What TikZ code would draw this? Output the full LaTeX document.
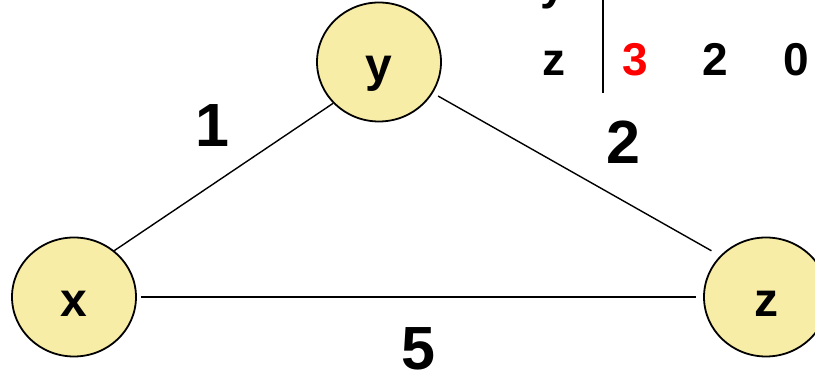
\documentclass[tikz,border=0pt]{standalone}
\usepackage{fontspec}
\setmainfont{Liberation Sans}
\usetikzlibrary{shapes.geometric}
\definecolor{nodefill}{RGB}{248,237,166}
\tikzset{
  vertex/.style={ellipse, draw=black, line width=1.8pt, fill=nodefill,
    minimum width=124pt, minimum height=119pt, inner sep=0pt,
    text height=39pt, text depth=0pt,
    font=\fontsize{48}{48}\selectfont\bfseries},
  edgelabel/.style={inner sep=0pt, font=\fontsize{61}{61}\selectfont\bfseries},
  tabtext/.style={inner sep=0pt, anchor=base, font=\fontsize{46}{46}\selectfont\bfseries},
  link/.style={line width=1.4pt, black}
}
\begin{document}
\begin{tikzpicture}[x=1pt,y=1pt]
\useasboundingbox (0,0) rectangle (815,377);
% nodes
\node[vertex] (x) at (74,80) {x};
\node[vertex] (y) at (379,315) {y};
\node[vertex] (z) at (766,80) {z};
% connectors
\draw[link] (x.49) -- (y.222);
\draw[link, shorten <=6pt, shorten >=10pt] (y.-30) -- (z.138);
\draw[link, shorten <=4pt, shorten >=7pt] (x.east) -- (z.west);
% edge labels
\node[edgelabel] (l1) at (212,251) {1};
\node[edgelabel] (l2) at (623,235) {2};
\node[edgelabel] (l5) at (418,28) {5};
% table fragment
\node[tabtext] (ty) at (553,377) {y};
\node[tabtext] (tz) at (554,301) {z};
\node[tabtext, text=red] (t3) at (635,301) {3};
\node[tabtext] (t2) at (715,301) {2};
\node[tabtext] (t0) at (796,301) {0};
\coordinate (vtop) at (603,380);
\coordinate (vbot) at (603,284);
\draw[line width=1.4pt] (vtop) -- (vbot);
\end{tikzpicture}
\end{document}
